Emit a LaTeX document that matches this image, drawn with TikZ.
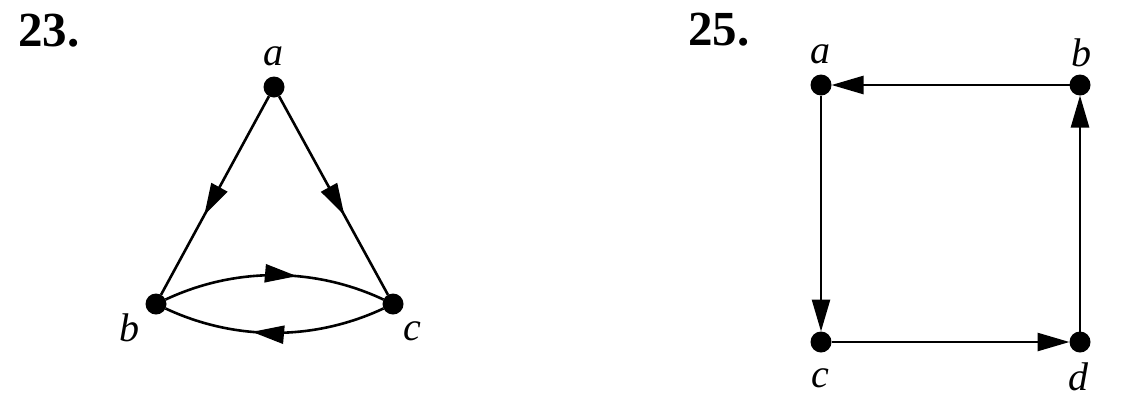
\documentclass[tikz,border=0pt]{standalone}
\usepackage{fontspec}
\setmainfont{Liberation Serif}
\usetikzlibrary{arrows.meta,decorations.markings}
\tikzset{
  vtx/.style={circle,fill=black,inner sep=0pt,minimum size=21pt,outer sep=0pt},
  lbl/.style={inner sep=0pt,font=\fontsize{40}{44}\selectfont\itshape},
  num/.style={inner sep=0pt,font=\fontsize{49}{52}\selectfont\bfseries},
  edge/.style={line width=2.6pt},
  tip/.style={-{Triangle[length=32pt,width=18pt]}},
  midtip/.style={decoration={markings,mark=at position #1 with {\arrow{Triangle[length=32pt,width=18pt]}}},postaction={decorate}}
}
\begin{document}
\begin{tikzpicture}[x=1pt,y=-1pt]
\useasboundingbox (0,0) rectangle (1139,413);
% 23
\node[num] (n23) at (49,31) {23.};
\node[vtx] (a) at (274,87) {};
\node[vtx] (b) at (156,304) {};
\node[vtx] (c) at (393,304) {};
\node[lbl] (la) at (273,56) {a};
\node[lbl] (lb) at (129,328) {b};
\node[lbl] (lc) at (412,331) {c};
\draw[edge,midtip=0.6] (a) -- (b);
\draw[edge,midtip=0.6] (a) -- (c);
\draw[edge,midtip=0.6] (b) .. controls (235,267) and (314,267) .. (c);
\draw[edge,midtip=0.6] (c) .. controls (314,341) and (235,341) .. (b);
% 25
\node[num] (n25) at (719,30) {25.};
\node[vtx] (a2) at (821,85) {};
\node[vtx] (b2) at (1080,85) {};
\node[vtx] (c2) at (821,342) {};
\node[vtx] (d2) at (1080,342) {};
\node[lbl] (la2) at (820,54) {a};
\node[lbl] (lb2) at (1081,53) {b};
\node[lbl] (lc2) at (820,378) {c};
\node[lbl] (ld2) at (1078,377) {d};
\draw[edge,tip] (b2) -- (a2);
\draw[edge,tip] (a2) -- (c2);
\draw[edge,tip] (c2) -- (d2);
\draw[edge,tip] (d2) -- (b2);
\end{tikzpicture}
\end{document}
